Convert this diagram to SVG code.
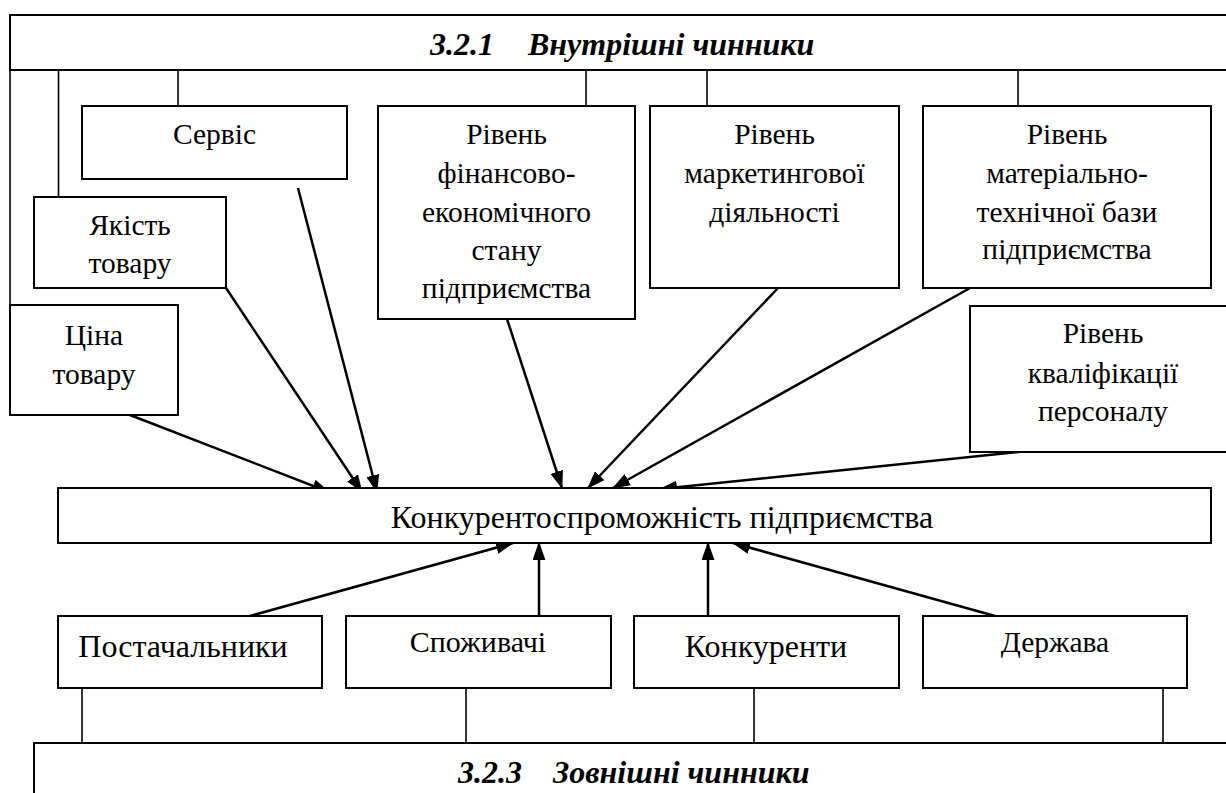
<svg xmlns="http://www.w3.org/2000/svg" width="1226" height="793" viewBox="0 0 1226 793">
<style>
.box{fill:#fff;stroke:#000;stroke-width:2}
.ln{stroke:#000;stroke-width:1.6;fill:none}
.ar{stroke:#000;stroke-width:2.5;fill:none;marker-end:url(#ah)}
.t{font-family:'Liberation Serif',serif;font-size:29.5px;fill:#000;text-anchor:middle}
.h{font-family:'Liberation Serif',serif;font-size:32px;font-weight:bold;font-style:italic;fill:#000}
</style>
<defs>
<marker id="ah" markerUnits="userSpaceOnUse" markerWidth="18" markerHeight="13" refX="17" refY="6.5" orient="auto">
<path d="M0,0 L18,6.5 L0,13 z" fill="#000"/>
</marker>
</defs>
<rect width="1226" height="793" fill="#fff"/>
<g id="internal">
<rect class="box" x="10" y="15" width="1230" height="55"/>
<text class="h" y="55"><tspan x="430">3.2.1</tspan><tspan x="528">Внутрішні чинники</tspan></text>
</g>
<g id="external">
<rect class="box" x="34" y="743" width="1210" height="70"/>
<text class="h" y="783"><tspan x="458">3.2.3</tspan><tspan x="553">Зовнішні чинники</tspan></text>
</g>
<g id="connectors">
<line class="ln" x1="10" y1="70" x2="10" y2="305"/>
<line class="ln" x1="58.5" y1="70" x2="58.5" y2="197"/>
<line class="ln" x1="178" y1="70" x2="178" y2="106"/>
<line class="ln" x1="586" y1="70" x2="586" y2="106"/>
<line class="ln" x1="707" y1="70" x2="707" y2="106"/>
<line class="ln" x1="1018" y1="70" x2="1018" y2="106"/>
<line class="ln" x1="82" y1="688" x2="82" y2="743"/>
<line class="ln" x1="466" y1="688" x2="466" y2="743"/>
<line class="ln" x1="754" y1="688" x2="754" y2="743"/>
<line class="ln" x1="1163" y1="688" x2="1163" y2="743"/>
<line class="ar" x1="130" y1="415" x2="329" y2="492"/>
<line class="ar" x1="226" y1="288" x2="362" y2="492"/>
<line class="ar" x1="298" y1="188" x2="377" y2="492"/>
<line class="ar" x1="507" y1="319" x2="562" y2="488"/>
<line class="ar" x1="778" y1="288" x2="588" y2="488"/>
<line class="ar" x1="970" y1="288" x2="613" y2="488"/>
<line class="ar" x1="1019" y1="452" x2="660" y2="489"/>
<line class="ar" x1="250" y1="616" x2="513" y2="543"/>
<line class="ar" x1="539" y1="616" x2="539" y2="543"/>
<line class="ar" x1="708" y1="616" x2="708" y2="543"/>
<line class="ar" x1="995" y1="616" x2="733" y2="543"/>
</g>
<g id="service">
<rect class="box" x="82" y="106" width="265" height="73"/>
<text class="t" x="214.5" y="144">Сервіс</text>
</g>
<g id="quality">
<rect class="box" x="34" y="197" width="192" height="91"/>
<text class="t" x="130" y="235">Якість</text>
<text class="t" x="130" y="273">товару</text>
</g>
<g id="price">
<rect class="box" x="10" y="305" width="168" height="110"/>
<text class="t" x="94" y="345">Ціна</text>
<text class="t" x="94" y="384">товару</text>
</g>
<g id="finance">
<rect class="box" x="378" y="106" width="257" height="213"/>
<text class="t" x="506.5" y="144">Рівень</text>
<text class="t" x="506.5" y="183">фінансово-</text>
<text class="t" x="506.5" y="222">економічного</text>
<text class="t" x="506.5" y="260">стану</text>
<text class="t" x="506.5" y="298">підприємства</text>
</g>
<g id="marketing">
<rect class="box" x="650" y="106" width="249" height="182"/>
<text class="t" x="774.5" y="144">Рівень</text>
<text class="t" x="774.5" y="183">маркетингової</text>
<text class="t" x="774.5" y="222">діяльності</text>
</g>
<g id="material">
<rect class="box" x="923" y="106" width="288" height="182"/>
<text class="t" x="1067" y="144">Рівень</text>
<text class="t" x="1067" y="183">матеріально-</text>
<text class="t" x="1067" y="222">технічної бази</text>
<text class="t" x="1067" y="259">підприємства</text>
</g>
<g id="staff">
<rect class="box" x="970" y="306" width="266" height="146"/>
<text class="t" x="1103" y="343">Рівень</text>
<text class="t" x="1103" y="383">кваліфікації</text>
<text class="t" x="1103" y="421">персоналу</text>
</g>
<g id="competitiveness">
<rect class="box" x="58" y="488" width="1153" height="55"/>
<text class="t" x="662" y="528" style="font-size:32px">Конкурентоспроможність підприємства</text>
</g>
<g id="suppliers">
<rect class="box" x="58" y="616" width="264" height="72"/>
<text class="t" x="183" y="657" style="font-size:32px">Постачальники</text>
</g>
<g id="consumers">
<rect class="box" x="346" y="616" width="265" height="72"/>
<text class="t" x="478" y="652" style="font-size:30px">Споживачі</text>
</g>
<g id="competitors">
<rect class="box" x="634" y="616" width="265" height="72"/>
<text class="t" x="766" y="657" style="font-size:32px">Конкуренти</text>
</g>
<g id="state">
<rect class="box" x="923" y="616" width="264" height="72"/>
<text class="t" x="1055" y="652" style="font-size:29.5px">Держава</text>
</g>
</svg>
